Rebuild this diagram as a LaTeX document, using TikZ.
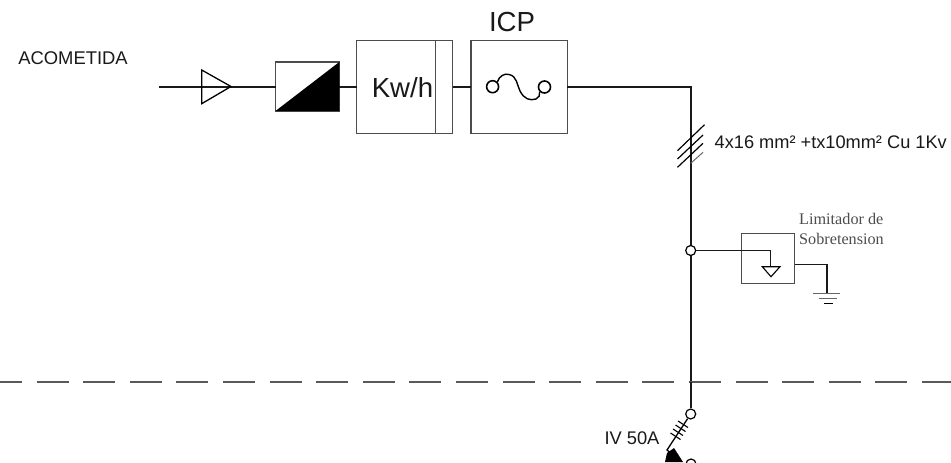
\documentclass[tikz,border=0pt]{standalone}
\usepackage{fontspec}
\setmainfont{Liberation Sans}
\newfontfamily\serifface{Liberation Serif}
\tikzset{
  x=1pt,y=-1pt,
  wire/.style={line width=1.9pt,black!90},
  thin wire/.style={line width=1.2pt,black!90},
  boxshape/.style={draw=black!70,line width=1.3pt,fill=white,inner sep=0pt,outer sep=0pt,minimum width=#1,anchor=north west},
  term/.style={circle,draw=black,fill=white,line width=1.2pt,inner sep=0pt,minimum size=#1},
  lbl/.style={inner sep=0pt,text=black!90}
}
\begin{document}
\begin{tikzpicture}
\useasboundingbox (0,0) rectangle (951,463);
\clip (0,0) rectangle (951,463);
% free ends and corners
\coordinate (in) at (158.5,87);
\coordinate (corner) at (690.7,87);
\coordinate (gwire) at (827,264.5);
\coordinate (gnd) at (827,293.5);
\coordinate (t1) at (770.5,250.5);
% boxes
\node[boxshape=63.8pt,minimum height=49pt] (meter) at (275.5,62) {};
\node[boxshape=96pt,minimum height=93pt] (kwh) at (356.7,40.3) {};
\node[boxshape=96.3pt,minimum height=93pt] (icp) at (471,40.3) {};
\node[boxshape=53pt,minimum height=50pt,line width=1pt] (lim) at (741.7,233.3) {};
% connectors
\draw[wire] (in) -- (meter.west |- in);
\draw[wire] (meter.east |- in) -- (kwh.west |- in);
\draw[wire] (kwh.east |- in) -- (icp.west |- in);
\draw[wire] (icp.east |- in) -- (corner) -- (690.7,408);
\draw[line width=1.3pt,line join=miter] (201.7,70) -- (231,86.5) -- (201.7,103.7) -- cycle;
\fill[black] (meter.south west) -- (meter.north east) -- (meter.south east) -- cycle;
\draw[black!70,line width=1.2pt] (435.7,40.3) -- (435.7,133.3);
\node[lbl,font=\fontsize{27.6}{27.6}\selectfont] at (402.5,87.5) {Kw/h};
\node[lbl,font=\fontsize{27.6}{27.6}\selectfont] at (512,22) {ICP};
\node[lbl,font=\fontsize{18.4}{18.4}\selectfont] at (73,58) {ACOMETIDA};
% fuse
\node[term=12pt,line width=1.6pt] (fa) at (492.6,86.7) {};
\node[term=12pt,line width=1.6pt] (fb) at (544.5,87) {};
\draw[line width=1.4pt] (fa.north east) .. controls (499,76) and (505,73) .. (509,74.5) .. controls (517,76) and (517,85) .. (520,91) .. controls (524,99) and (530,101) .. (536,99) .. controls (539,98) and (540,95) .. (fb.south west);
% cable ticks
\draw[line width=1.2pt] (677.5,150.7) -- (704.5,124.7) (677.5,159) -- (703,135) (677.5,167.3) -- (703,143.3);
\draw[line width=1pt,black!60] (690.7,163.3) -- (703,152.3);
\node[lbl,anchor=west,font=\fontsize{18.2}{18.2}\selectfont] at (714.5,142) {4x16 mm² +tx10mm² Cu 1Kv};
% limiter
\node[term=10pt] (j) at (690.7,250.5) {};
\draw[thin wire] (j) -- (t1) -- (770.5,266.7);
\draw[line width=1.1pt] (762.3,266.7) -- (780,266.7) -- (771,276.7) -- cycle;
\draw[thin wire] (lim.east |- gwire) -- (gwire) -- (gnd);
\draw[line width=1pt,black!60] (813,293.5) -- (840,293.5) (819,298.5) -- (837,298.5);
\draw[line width=1pt] (824,303.5) -- (833,303.5);
\node[lbl,align=left,anchor=north west,text=black!70,font=\serifface\fontsize{16.2}{20}\selectfont] at (799,213.5) {Limitador de\\Sobretension};
% dashed line
\draw[line width=1.3pt,black!65,dash pattern=on 32pt off 14.6pt,dash phase=10pt] (0,382) -- (951,382);
% switch
\node[term=10pt] (s1) at (690.7,414) {};
\node[term=10pt] (s2) at (691,464) {};
\draw[wire] (690.7,382) -- (s1);
\draw[line width=1.3pt] (s1) -- (667,450) -- (669.5,452);
\draw[line width=1.1pt] (678,421) -- (688,427.5) (675.5,425) -- (685.5,431.5) (673,429) -- (683,435.5) (670.5,433) -- (680.5,439.5);
\fill[black] (674,448) -- (683,462) -- (665,462) -- (667,453) -- cycle;
\node[lbl,font=\fontsize{18.3}{18.3}\selectfont] at (632,438) {IV 50A};
\end{tikzpicture}
\end{document}
